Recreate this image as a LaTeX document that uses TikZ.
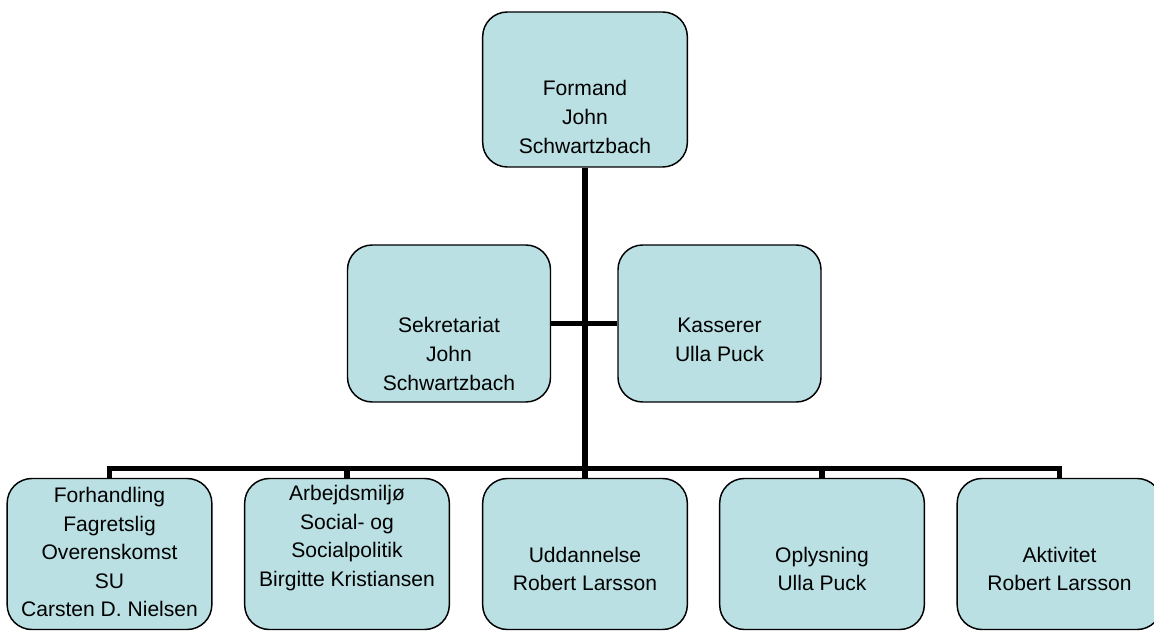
\documentclass[tikz,border=0pt]{standalone}
\usepackage{fontspec}
\setmainfont{Liberation Sans}
\definecolor{boxfill}{RGB}{186,224,227}
\begin{document}
\begin{tikzpicture}[x=0.75pt,y=-0.75pt,
  box/.style={draw=black, line width=1.1pt, fill=boxfill, rounded corners=18.5pt,
    rectangle, inner sep=0pt, minimum width=153.5pt},
  txt/.style={align=center, inner sep=0pt, font=\fontsize{15.8}{21.4}\selectfont},
  conn/.style={draw=black, line width=4pt, line join=miter}]
\useasboundingbox (0,0) rectangle (1154,631);
\clip (0,0) rectangle (1154,631);
% connectors first (behind boxes)
\coordinate (bus) at (585,468.5);
% boxes
\node[box, minimum height=116.25pt] (top) at (585,89.5) {};
\node[box, minimum height=117.75pt, minimum width=152.25pt] (sek) at (449,323.5) {};
\node[box, minimum height=117.75pt, minimum width=152.25pt] (kas) at (719.5,323.5) {};
\node[box, minimum height=113.25pt] (forh) at (109.5,554) {};
\node[box, minimum height=113.25pt] (arb)  at (347,554) {};
\node[box, minimum height=113.25pt] (udd)  at (585,554) {};
\node[box, minimum height=113.25pt] (opl)  at (822,554) {};
\node[box, minimum height=113.25pt] (akt)  at (1059.5,554) {};
% connectors
\draw[conn] (top.south) -- (udd.north);
\draw[conn] (sek.east) -- (kas.west);
\draw[conn] (forh.north) |- (bus) -| (akt.north);
\draw[conn] (arb.north) -- (arb.north |- bus);
\draw[conn] (opl.north) -- (opl.north |- bus);
% texts
\node[txt] (ttop) at (585,117) {Formand\\John\\Schwartzbach};
\node[txt] (tsek) at (449,354) {Sekretariat\\John\\Schwartzbach};
\node[txt] (tkas) at (719.5,340) {Kasserer\\Ulla Puck};
\node[txt] (tforh) at (109.5,552) {Forhandling\\Fagretslig\\Overenskomst\\SU\\Carsten D. Nielsen};
\node[txt] (tarb) at (347,538) {Arbejdsmiljø\\Social- og\\Socialpolitik\\Birgitte Kristiansen};
\node[txt] (tudd) at (585,569) {Uddannelse\\Robert Larsson};
\node[txt] (topl) at (822,569) {Oplysning\\Ulla Puck};
\node[txt] (takt) at (1059.5,569) {Aktivitet\\Robert Larsson};
\end{tikzpicture}
\end{document}
